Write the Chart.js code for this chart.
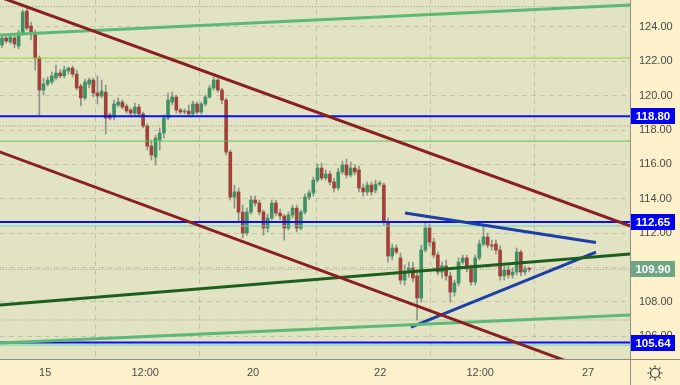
<!DOCTYPE html>
<html>
<head>
<meta charset="utf-8">
<script src="https://cdn.jsdelivr.net/npm/chart.js@4"></script>
<style>
    html, body { margin: 0; padding: 0; background: #fdf1cb; }
    #wrap { width: 680px; height: 385px; }
</style>
</head>
<body>
<div id="wrap"><canvas id="chartContainer"></canvas></div>
<script>
// Candles (one per bar, oldest first)
const opens = [
    122.95, 123.36, 123.13, 123.36, 122.89, 123.65, 124.93, 124.06, 123.65, 122.19,
    120.33, 120.68, 120.80, 121.03, 121.32, 121.15, 121.44, 121.61, 121.26, 120.56,
    119.87, 120.68, 120.91, 120.16, 119.98, 120.21, 118.88, 118.76, 119.46, 119.63,
    119.40, 119.17, 118.99, 119.34, 118.94, 118.24, 117.07, 116.43, 117.42, 117.83,
    118.70, 119.63, 119.92, 119.17, 119.05, 119.11, 118.94, 119.52, 119.05, 119.52,
    119.92, 120.45, 120.91, 120.33, 119.75, 116.72, 114.10, 114.40, 113.23, 112.01,
    113.23, 113.93, 113.76, 113.23, 112.30, 112.88, 113.76, 113.17, 113.00, 112.30,
    113.06, 113.46, 112.30, 113.23, 114.10, 114.34, 115.09, 115.79, 115.21, 115.44,
    114.98, 114.63, 115.56, 115.97, 115.39, 115.79, 115.68, 114.63, 114.40, 114.80,
    114.51, 114.86, 114.80, 112.65, 110.67, 111.14, 110.56, 109.27, 109.74, 109.97,
    109.51, 108.23, 111.02, 112.30, 111.48, 110.73, 109.74, 110.09, 109.51, 108.57,
    109.10, 110.32, 110.56, 109.97, 109.16, 110.56, 111.37, 111.78, 111.31, 111.37,
    111.02, 109.51, 109.86, 109.57, 109.74, 110.90, 109.74, 109.92
];
const highs = [
    123.53, 123.47, 123.59, 123.47, 123.82, 124.99, 125.10, 124.29, 123.82, 122.31,
    121.03, 121.09, 121.38, 121.79, 121.50, 121.73, 121.67, 121.73, 121.50, 120.68,
    120.97, 121.03, 121.03, 121.15, 120.91, 120.62, 118.99, 119.75, 119.87, 119.75,
    119.52, 119.28, 119.58, 119.52, 119.05, 118.35, 117.42, 117.71, 118.12, 118.88,
    120.16, 120.21, 120.04, 119.28, 119.23, 119.46, 119.69, 119.63, 119.63, 120.04,
    120.62, 121.09, 121.03, 120.45, 119.87, 116.84, 114.80, 114.63, 113.64, 113.46,
    114.16, 114.16, 113.93, 113.35, 113.11, 113.93, 113.93, 113.41, 113.11, 113.23,
    113.64, 113.64, 113.35, 114.28, 114.51, 115.27, 116.02, 116.08, 115.68, 115.62,
    115.21, 115.79, 116.20, 116.32, 116.14, 115.97, 115.91, 114.86, 114.98, 114.98,
    115.09, 115.03, 114.92, 112.88, 111.37, 111.31, 110.85, 110.15, 110.32, 110.32,
    109.86, 111.31, 112.65, 112.53, 111.72, 110.90, 110.32, 110.44, 109.74, 109.27,
    110.56, 110.73, 110.73, 110.15, 110.73, 111.60, 112.42, 112.01, 111.60, 111.60,
    111.25, 110.09, 110.09, 109.97, 111.14, 111.02, 110.09, 110.03
];
const lows = [
    122.78, 123.07, 123.01, 122.78, 122.72, 123.53, 123.82, 123.24, 121.50, 118.88,
    120.04, 120.56, 120.68, 120.91, 121.03, 121.03, 121.26, 121.09, 120.33, 119.40,
    119.75, 120.45, 119.92, 119.52, 119.87, 117.77, 118.59, 118.59, 119.34, 119.23,
    118.99, 118.88, 118.88, 118.76, 118.12, 116.84, 116.26, 115.97, 116.84, 117.54,
    118.59, 119.46, 118.99, 118.94, 118.94, 118.82, 118.82, 118.94, 118.94, 119.40,
    119.87, 120.33, 120.21, 119.52, 116.55, 113.93, 113.46, 112.65, 111.72, 111.89,
    113.11, 113.58, 113.06, 111.89, 112.07, 112.77, 113.00, 112.77, 111.60, 112.19,
    112.88, 112.07, 112.19, 113.11, 113.93, 114.16, 114.98, 115.09, 115.09, 114.80,
    114.40, 114.51, 115.44, 115.21, 115.27, 115.39, 114.40, 114.16, 114.22, 114.22,
    114.34, 114.74, 112.48, 110.32, 110.44, 110.79, 109.04, 108.98, 109.45, 109.16,
    106.95, 107.99, 110.90, 111.25, 110.56, 109.57, 109.39, 109.27, 107.99, 108.34,
    108.92, 110.20, 109.74, 108.98, 108.98, 110.44, 111.25, 111.14, 111.02, 110.79,
    109.27, 109.27, 109.39, 109.39, 109.57, 109.51, 109.57, 109.74
];
const closes = [
    123.36, 123.18, 123.42, 123.01, 123.65, 124.87, 123.94, 123.65, 122.19, 120.33,
    120.68, 120.91, 121.15, 121.32, 121.15, 121.50, 121.61, 121.26, 120.45, 119.87,
    120.80, 120.91, 120.16, 119.98, 120.27, 118.70, 118.70, 119.52, 119.63, 119.34,
    119.11, 118.99, 119.34, 118.94, 118.24, 117.07, 116.55, 117.54, 117.83, 118.70,
    119.75, 119.92, 119.17, 119.05, 119.11, 118.94, 119.52, 119.05, 119.52, 119.92,
    120.45, 120.91, 120.33, 119.75, 116.72, 114.10, 114.40, 113.23, 112.01, 113.23,
    113.93, 113.76, 113.23, 112.30, 112.88, 113.76, 113.17, 113.00, 112.30, 113.06,
    113.46, 112.30, 113.23, 114.10, 114.34, 115.09, 115.79, 115.21, 115.44, 114.98,
    114.63, 115.56, 115.97, 115.39, 115.79, 115.56, 114.63, 114.40, 114.80, 114.40,
    114.86, 114.92, 112.65, 110.67, 111.14, 110.90, 109.27, 109.74, 109.97, 109.39,
    108.23, 111.02, 112.30, 111.48, 110.73, 109.74, 110.09, 109.51, 108.57, 109.10,
    110.32, 110.56, 109.97, 109.16, 110.56, 111.37, 111.78, 111.31, 111.25, 111.02,
    109.51, 109.86, 109.57, 109.74, 110.90, 109.74, 109.92, 109.90
];

// Time axis (bar index where each label sits)
const timeTickPos = [10.4, 34.5, 60.5, 91.1, 115.2, 141.2];
const timeTickLabels = ['15', '12:00', '20', '22', '12:00', '27'];

// Drawn lines: [barIndex, price] end points
const upperChannel = [[-2, 125.87], [152, 112.36]];
const lowerChannel = [[-2, 116.86], [140, 104.20]];
const upperGreen = [[-2, 123.52], [152, 125.28]];
const lowerGreen = [[-2, 105.59], [152, 107.25]];
const darkGreen = [[-2, 107.79], [152, 110.81]];
const triangleTop = [[97.1, 113.17], [143.1, 111.46]];
const triangleBottom = [[98.55, 106.54], [143.1, 110.90]];

// Horizontal levels
const blueLevels = [118.80, 112.65, 105.64];
const tealLevels = [112.42, 105.49];
const limeLevel = 122.19;
const greenLevel = 117.36;
const dottedLevels = [125.18, 118.24, 109.90, 106.95];
const lastPrice = 109.90;

const X_MIN = -0.48, X_MAX = 151.3;
const Y_MIN = 104.68, Y_MAX = 125.57;

function segment(points, color, width, dash, order) {
    return {
        type: 'line',
        data: points.map(p => ({ x: p[0], y: p[1] })),
        borderColor: color,
        borderWidth: width,
        borderDash: dash || [],
        pointRadius: 0,
        fill: false,
        clip: 0,
        order: order
    };
}

function level(value, color, width, dash, order) {
    return segment([[-2, value], [152, value]], color, width, dash, order);
}

const isUp = closes.map((c, i) => c >= opens[i]);

const datasets = [
    segment(upperChannel, '#8a1f22', 3, null, 0),
    segment(lowerChannel, '#8a1f22', 3, null, 0),
    segment(upperGreen, '#5cba76', 3, null, 0),
    segment(lowerGreen, '#5cba76', 3, null, 0),
    segment(darkGreen, '#1c5e1f', 3, null, 0),
    segment(triangleTop, '#1b3fa6', 3, null, 0),
    segment(triangleBottom, '#1b3fa6', 3, null, 0),
    ...blueLevels.map(v => level(v, '#0a10f0', 2, null, 1)),
    ...tealLevels.map(v => level(v, '#6fd6b0', 1, null, 1)),
    level(limeLevel, '#92cf34', 1, null, 1),
    level(greenLevel, '#5cc257', 1, null, 1),
    ...dottedLevels.map(v => level(v, '#8d8d85', 1, [1, 2], 1)),
    {
        type: 'bar',
        data: closes.map((c, i) => ({ x: i, y: [opens[i], c] })),
        backgroundColor: isUp.map(u => u ? '#3d9163' : '#a0423a'),
        borderColor: isUp.map(u => u ? '#2c6e4a' : '#73302a'),
        borderWidth: 0,
        barThickness: 3,
        minBarLength: 1,
        grouped: false,
        order: 2
    },
    {
        type: 'bar',
        data: closes.map((c, i) => ({ x: i, y: [lows[i], highs[i]] })),
        backgroundColor: '#8c9585',
        borderWidth: 0,
        barThickness: 1,
        grouped: false,
        order: 3
    }
];

// Backgrounds, axis separators, price tags and the settings icon
const chrome = {
    id: 'chrome',
    beforeDraw(chart) {
        const { ctx, chartArea } = chart;
        ctx.save();
        ctx.fillStyle = '#fdf1cb';
        ctx.fillRect(0, 0, chart.width, chart.height);
        ctx.fillStyle = '#e2e3c3';
        ctx.fillRect(chartArea.left, chartArea.top, chartArea.right - chartArea.left, chartArea.bottom - chartArea.top);
        ctx.restore();
    },
    afterDraw(chart) {
        const { ctx, chartArea } = chart;
        const y = chart.scales.y;
        ctx.save();
        ctx.strokeStyle = '#8e8e84';
        ctx.lineWidth = 1;
        ctx.beginPath();
        ctx.moveTo(chartArea.right + 0.5, 0);
        ctx.lineTo(chartArea.right + 0.5, chart.height);
        ctx.moveTo(0, chartArea.bottom + 0.5);
        ctx.lineTo(chart.width, chartArea.bottom + 0.5);
        ctx.stroke();

        const tag = (value, bg) => {
            const py = Math.round(y.getPixelForValue(value));
            ctx.fillStyle = bg;
            ctx.fillRect(chartArea.right + 1, py - 8, 44, 16);
            ctx.fillStyle = '#ffffff';
            ctx.font = 'bold 11.5px "Liberation Sans", Arial, sans-serif';
            ctx.textAlign = 'center';
            ctx.textBaseline = 'middle';
            ctx.fillText(value.toFixed(2), chartArea.right + 23, py + 0.5);
        };
        blueLevels.forEach(v => tag(v, '#0000f5'));
        tag(lastPrice, '#6ea585');

        // settings (sun) icon
        const cx = 655, cy = 373;
        ctx.strokeStyle = '#333333';
        ctx.lineWidth = 1.2;
        ctx.beginPath();
        ctx.arc(cx, cy, 4.5, 0, Math.PI * 2);
        ctx.stroke();
        ctx.beginPath();
        for (let k = 0; k < 8; k++) {
            const a = k * Math.PI / 4;
            ctx.moveTo(cx + Math.cos(a) * 5.5, cy + Math.sin(a) * 5.5);
            ctx.lineTo(cx + Math.cos(a) * 7.5, cy + Math.sin(a) * 7.5);
        }
        ctx.stroke();
        ctx.restore();
    }
};

const tickFont = { family: '"Liberation Sans", Arial, sans-serif', size: 11 };

document.addEventListener('DOMContentLoaded', function () {
    const ctx = document.getElementById('chartContainer').getContext('2d');
    new Chart(ctx, {
        type: 'bar',
        data: { datasets: datasets },
        options: {
            responsive: true,
            maintainAspectRatio: false,
            animation: false,
            layout: { padding: 0 },
            plugins: {
                legend: { display: false },
                tooltip: { enabled: false }
            },
            scales: {
                x: {
                    type: 'linear',
                    min: X_MIN,
                    max: X_MAX,
                    offset: false,
                    grid: { color: 'rgba(150,150,135,0.4)', drawTicks: false },
                    border: { display: false, dash: [5, 4] },
                    ticks: {
                        autoSkip: false,
                        maxRotation: 0,
                        padding: 7,
                        color: '#4a4a4a',
                        font: tickFont,
                        callback: (v, i) => timeTickLabels[i]
                    },
                    afterBuildTicks: s => { s.ticks = timeTickPos.map(v => ({ value: v })); },
                    afterFit: s => { s.height = 26; s.paddingLeft = 0; s.paddingRight = 0; }
                },
                y: {
                    type: 'linear',
                    position: 'right',
                    min: Y_MIN,
                    max: Y_MAX,
                    grid: { color: 'rgba(150,150,135,0.4)', drawTicks: false },
                    border: { display: false, dash: [5, 4] },
                    ticks: {
                        stepSize: 2,
                        includeBounds: false,
                        padding: 9,
                        color: '#4a4a4a',
                        font: tickFont,
                        callback: v => v.toFixed(2)
                    },
                    afterFit: s => { s.width = 50; s.paddingTop = 0; s.paddingBottom = 0; }
                }
            }
        },
        plugins: [chrome]
    });
});
</script>
</body>
</html>
